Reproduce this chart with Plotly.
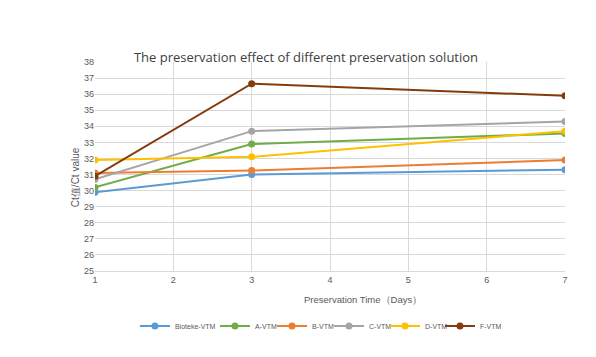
import plotly.graph_objects as go

days = [1, 3, 7]
series_names = ["Bioteke-VTM", "A-VTM", "B-VTM", "C-VTM", "D-VTM", "F-VTM"]
bioteke = [29.9, 31.0, 31.3]
a_vtm = [30.2, 32.9, 33.55]
b_vtm = [31.1, 31.25, 31.9]
c_vtm = [30.7, 33.7, 34.3]
d_vtm = [31.9, 32.1, 33.7]
f_vtm = [30.9, 36.65, 35.9]
colors = ["#5B9BD5", "#70AD47", "#ED7D31", "#A5A5A5", "#FFC000", "#843C0C"]
values = [bioteke, a_vtm, b_vtm, c_vtm, d_vtm, f_vtm]
legend_x = [0.085, 0.2553, 0.3766, 0.4979, 0.617, 0.734]

fig = go.Figure()
legend_layout = {}
for i, (name, vals, col, lx) in enumerate(zip(series_names, values, colors, legend_x)):
    lg = "legend" if i == 0 else f"legend{i + 1}"
    fig.add_trace(go.Scatter(
        x=days, y=vals, name=name, mode="lines+markers",
        line=dict(color=col, width=2),
        marker=dict(color=col, size=7),
        legend=lg, showlegend=True,
    ))
    legend_layout[lg] = dict(orientation="h", x=lx, y=-0.263, yanchor="middle",
                             xanchor="left", font=dict(size=7, color="#595959"),
                             itemwidth=30, bgcolor="rgba(0,0,0,0)")

fig.update_layout(
    width=596, height=357,
    showlegend=True,
    margin=dict(l=87, r=39, t=54, b=94),
    paper_bgcolor="white", plot_bgcolor="white",
    font=dict(family="Liberation Sans, Arial, sans-serif", color="#595959", size=9),
    title=dict(text="The preservation effect of different preservation solution",
               x=0.5, xanchor="center", y=0.862, yanchor="middle",
               font=dict(size=13, color="#404040", family="Open Sans, sans-serif")),
    xaxis=dict(range=[1, 7], tickmode="linear", tick0=1, dtick=1,
               showgrid=True, gridcolor="#D9D9D9", gridwidth=1,
               showline=True, linecolor="#D9D9D9", zeroline=False,
               ticks="", tickfont=dict(size=9, color="#595959")),
    yaxis=dict(range=[25, 38], tickmode="linear", tick0=25, dtick=1,
               showgrid=True, gridcolor="#D9D9D9", gridwidth=1,
               showline=False, zeroline=False, ticks="",
               tickfont=dict(size=9, color="#595959")),
    **legend_layout,
)

fig.add_annotation(
    text="Ct值/Ct value", textangle=-90,
    xref="paper", yref="paper", x=-0.04, y=0.45,
    xanchor="center", yanchor="middle", showarrow=False,
    font=dict(size=10, color="#595959"),
)
fig.add_annotation(
    text="Preservation Time（Days）",
    xref="paper", yref="paper", x=0.57, y=-0.134,
    xanchor="center", yanchor="middle", showarrow=False,
    font=dict(size=9.5, color="#595959"),
)

fig.write_html("out.html")
